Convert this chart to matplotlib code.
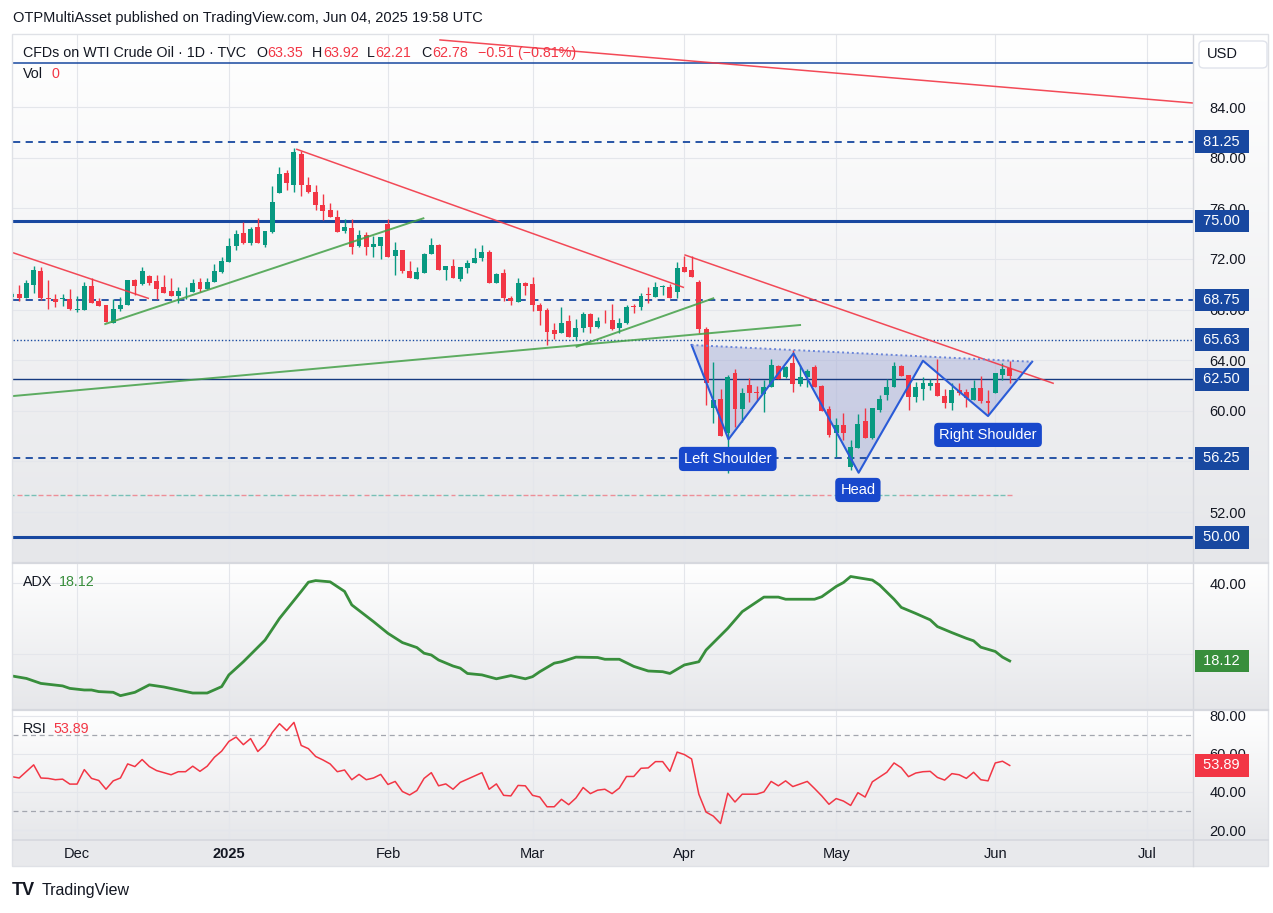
import matplotlib
matplotlib.use("Agg")
import matplotlib.pyplot as plt
import matplotlib.transforms as mtransforms
from matplotlib.colors import LinearSegmentedColormap
from matplotlib.patches import Rectangle, Polygon, FancyBboxPatch
from matplotlib.lines import Line2D
import numpy as np
import pandas as pd

plt.rcParams['font.family'] = ['Liberation Sans', 'DejaVu Sans']

# ---- daily bars, WTI CFD, Nov 19 2024 .. Jun 04 2025 ----
holidays = pd.to_datetime(["2024-12-25", "2025-01-01", "2025-04-18"])
dates = pd.bdate_range("2024-11-19", "2025-06-04")
dates = dates[~dates.isin(holidays)]

opens = [
    69.00, 69.23, 68.91, 69.94, 71.08, 68.94, 68.83, 68.80, 68.83, 68.00,
    67.96, 69.86, 68.68, 68.36, 66.97, 68.04, 68.36, 70.33, 70.00, 70.65,
    70.25, 69.76, 69.47, 69.10, 69.43, 69.42, 70.18, 69.60, 70.15, 71.00,
    71.73, 73.04, 74.02, 73.28, 74.50, 73.12, 74.15, 77.23, 78.76, 77.84,
    80.29, 77.84, 77.31, 76.26, 75.86, 75.29, 74.23, 74.42, 73.00, 73.89,
    72.92, 73.00, 74.76, 72.23, 72.70, 71.07, 70.39, 70.86, 72.39, 73.10,
    71.12, 71.44, 70.39, 71.26, 71.65, 72.05, 72.52, 70.07, 70.91, 68.94,
    68.62, 70.12, 70.02, 68.36, 67.96, 66.39, 66.18, 67.12, 65.81, 66.52,
    67.65, 66.60, 67.18, 67.18, 66.52, 66.91, 68.23, 68.23, 69.20, 69.02,
    69.81, 69.76, 69.41, 71.39, 71.12, 70.20, 66.44, 60.25, 60.91, 58.22,
    63.02, 60.12, 62.04, 61.49, 61.33, 61.86, 63.54, 62.65, 63.81, 62.12,
    62.70, 63.49, 61.96, 60.12, 58.28, 58.88, 55.54, 57.04, 59.22, 57.83,
    60.07, 61.25, 61.91, 63.54, 62.83, 61.12, 61.73, 61.99, 62.23, 61.17,
    60.65, 61.65, 61.52, 60.86, 61.78, 60.78, 61.44, 62.83, 63.35,
]
highs = [
    69.40, 69.94, 70.33, 71.44, 71.40, 70.30, 69.20, 69.20, 69.60, 69.07,
    70.20, 70.47, 68.90, 68.36, 68.83, 69.00, 70.33, 70.40, 71.40, 70.75,
    70.70, 70.73, 70.47, 69.76, 69.76, 70.40, 70.52, 70.52, 71.57, 72.18,
    73.68, 74.30, 74.94, 74.55, 75.20, 74.18, 77.76, 79.28, 79.02, 80.74,
    80.50, 78.50, 77.84, 77.13, 76.39, 75.90, 75.13, 75.13, 74.28, 74.10,
    73.81, 73.70, 75.13, 73.36, 72.70, 71.83, 71.39, 72.50, 73.63, 73.15,
    71.44, 71.97, 71.34, 71.92, 72.84, 73.10, 72.70, 70.91, 71.18, 69.07,
    70.47, 70.20, 70.55, 68.54, 68.10, 66.96, 68.18, 67.57, 67.23, 67.83,
    67.75, 67.39, 67.96, 68.44, 67.31, 68.36, 68.44, 69.28, 69.76, 70.20,
    69.94, 70.02, 71.78, 72.23, 72.23, 70.33, 66.60, 63.88, 61.70, 62.83,
    63.28, 61.78, 62.57, 61.96, 62.44, 64.07, 63.60, 63.55, 64.81, 63.62,
    63.28, 63.62, 62.04, 60.38, 59.41, 59.80, 57.70, 59.75, 60.20, 60.20,
    61.25, 62.49, 63.88, 63.60, 62.83, 62.31, 62.65, 62.49, 64.07, 61.70,
    62.17, 62.23, 61.70, 62.44, 62.75, 61.65, 63.02, 63.75, 63.92,
]
lows = [
    68.80, 68.70, 68.91, 69.34, 68.75, 68.04, 68.23, 68.30, 67.96, 67.78,
    67.96, 68.55, 68.30, 67.05, 66.97, 67.90, 68.36, 69.15, 69.95, 69.94,
    68.83, 69.34, 69.07, 68.49, 68.80, 69.42, 69.42, 69.60, 70.15, 70.87,
    71.73, 72.70, 73.18, 73.10, 73.23, 72.92, 74.02, 77.23, 77.44, 77.31,
    76.97, 77.18, 75.86, 75.08, 75.29, 74.15, 74.02, 72.39, 72.95, 72.31,
    72.13, 71.97, 72.18, 70.73, 70.91, 70.47, 70.39, 70.86, 72.39, 71.12,
    70.33, 70.47, 70.26, 70.90, 71.65, 71.83, 70.13, 70.07, 68.70, 68.36,
    68.62, 69.15, 67.91, 66.78, 65.20, 65.65, 66.18, 65.81, 65.60, 66.25,
    66.12, 66.52, 66.96, 66.39, 66.12, 66.86, 67.70, 67.96, 68.54, 69.02,
    69.15, 68.94, 68.89, 70.99, 70.60, 66.12, 60.46, 59.01, 58.01, 55.12,
    58.75, 59.14, 60.72, 60.86, 59.94, 61.86, 62.49, 62.60, 61.51, 61.96,
    61.86, 61.86, 60.01, 57.96, 56.38, 57.70, 55.33, 57.04, 57.83, 57.80,
    59.94, 60.86, 61.91, 62.78, 60.07, 60.73, 60.86, 61.65, 61.17, 60.20,
    60.07, 61.25, 60.33, 60.86, 60.60, 59.75, 61.44, 62.40, 62.21,
]
closes = [
    69.20, 68.91, 70.13, 71.12, 68.91, 68.83, 68.62, 68.88, 68.04, 68.06,
    69.86, 68.55, 68.30, 67.05, 68.04, 68.36, 70.33, 69.90, 71.05, 70.13,
    69.62, 69.34, 69.07, 69.47, 69.47, 70.13, 69.60, 70.18, 71.05, 71.83,
    73.04, 73.96, 73.28, 74.36, 73.23, 74.18, 76.52, 78.71, 78.02, 80.47,
    77.84, 77.26, 76.26, 75.81, 75.29, 74.15, 74.55, 72.97, 73.89, 72.92,
    73.18, 73.70, 72.18, 72.70, 71.07, 70.47, 70.99, 72.39, 73.10, 71.12,
    71.44, 70.47, 71.34, 71.65, 72.05, 72.52, 70.13, 70.81, 68.89, 68.70,
    70.07, 69.86, 68.36, 67.91, 66.25, 66.07, 66.96, 65.81, 66.52, 67.65,
    66.65, 67.12, 67.15, 66.44, 66.91, 68.23, 68.20, 69.07, 69.12, 69.81,
    69.86, 68.94, 71.31, 70.99, 70.60, 66.44, 62.23, 60.86, 58.01, 62.70,
    60.12, 61.44, 61.44, 61.42, 61.86, 63.62, 62.49, 63.49, 62.12, 62.70,
    63.17, 61.86, 60.01, 58.09, 58.88, 58.28, 57.17, 58.96, 57.83, 60.20,
    60.91, 61.91, 63.54, 62.78, 61.12, 61.91, 62.17, 62.23, 61.17, 60.65,
    61.65, 61.38, 60.99, 61.78, 60.80, 60.60, 63.02, 63.31, 62.78,
]

adx_idx = [0, 2, 4, 7, 8, 10, 11, 12, 14, 15, 17, 19, 21, 23, 25, 27, 29, 30, 32, 35,
           37, 40, 41, 42, 44, 46, 47, 50, 52, 54, 56, 57, 58, 59, 61, 62, 63, 65, 67, 69,
           71, 72, 73, 75, 76, 78, 81, 82, 84, 85, 86, 88, 90, 91, 93, 95, 96, 99, 101, 104,
           106, 107, 111, 112, 114, 115, 116, 119, 120, 122, 123, 125, 127, 128, 130, 132,
           133, 134, 136, 137, 138]
adx_val = [13.9, 13.2, 11.8, 11.1, 10.4, 9.95, 9.95, 9.5, 9.3, 8.35, 9.3, 11.4, 10.8, 9.95,
           9.1, 9.1, 10.9, 14.2, 17.9, 24.0, 30.1, 37.7, 40.3, 40.75, 40.4, 37.7, 33.9, 29.2,
           25.9, 23.3, 21.9, 20.3, 19.8, 18.4, 16.7, 16.1, 14.6, 14.2, 13.1, 14.0, 13.1, 13.7,
           15.1, 17.5, 17.9, 19.2, 19.1, 18.6, 18.6, 17.6, 16.6, 15.3, 15.1, 14.6, 17.0, 17.9,
           21.2, 27.3, 32.0, 36.1, 36.1, 35.5, 35.5, 36.2, 39.1, 40.2, 41.9, 40.9, 39.5, 35.5,
           33.2, 31.5, 29.7, 27.8, 26.1, 24.5, 23.8, 22.0, 20.8, 19.2, 18.12]

rsi_idx = [0, 1, 3, 4, 5, 6, 7, 8, 9, 10, 11, 12, 13, 14, 15, 16, 17, 18, 19, 20,
           22, 23, 24, 25, 26, 27, 28, 29, 30, 31, 32, 33, 34, 35, 36, 37, 38, 39, 40, 41,
           42, 43, 44, 45, 46, 47, 48, 49, 50, 51, 52, 53, 54, 55, 56, 57, 58, 59, 60, 61,
           62, 65, 66, 67, 68, 69, 70, 71, 72, 73, 74, 75, 76, 77, 78, 79, 80, 81, 82, 83,
           84, 85, 86, 87, 88, 89, 90, 91, 92, 93, 94, 95, 96, 97, 98, 99, 100, 101, 103, 104,
           105, 106, 107, 108, 110, 111, 112, 113, 114, 115, 116, 117, 118, 119, 121, 122, 123,
           124, 125, 126, 127, 128, 129, 130, 131, 132, 133, 134, 135, 136, 137, 138]
rsi_val = [48.0, 47.3, 54.2, 47.3, 47.1, 46.4, 46.7, 44.1, 44.1, 51.7, 47.1, 46.0, 41.4, 45.8,
           47.3, 54.7, 53.3, 57.0, 53.3, 51.2, 49.0, 50.6, 50.6, 53.5, 50.8, 53.5, 58.2, 61.4,
           66.5, 68.8, 64.8, 68.0, 61.2, 64.8, 71.2, 75.8, 72.2, 76.5, 64.4, 62.7, 58.6, 56.8,
           54.7, 50.6, 51.5, 46.4, 49.2, 46.4, 47.3, 49.2, 43.9, 45.5, 40.2, 38.4, 40.7, 47.1,
           50.1, 43.2, 44.2, 41.4, 45.0, 50.1, 41.4, 44.2, 38.2, 37.9, 43.4, 43.2, 38.2, 37.3,
           32.2, 32.2, 36.1, 33.3, 36.8, 42.3, 39.1, 40.9, 41.4, 39.1, 42.0, 48.1, 48.1, 52.4,
           52.6, 55.9, 55.9, 50.8, 60.9, 59.6, 57.3, 38.8, 29.4, 27.3, 23.4, 39.3, 34.7, 38.8,
           38.8, 40.0, 45.5, 43.2, 45.8, 42.8, 45.5, 41.8, 37.9, 33.5, 36.5, 35.2, 32.9, 39.6,
           37.3, 45.3, 50.3, 55.2, 52.7, 48.0, 49.9, 50.6, 50.8, 47.6, 46.2, 49.6, 49.0, 47.1,
           50.3, 46.4, 45.8, 55.2, 56.1, 53.89]

levels = [87.50, 81.25, 75.00, 68.75, 65.63, 62.50, 56.25, 50.00]
tagged = [81.25, 75.00, 68.75, 65.63, 62.50, 56.25, 50.00]
price_ticks = [52, 60, 64, 68, 72, 76, 80, 84]   # 56.00 sits under the 56.25 tag

# ---- style ----
W, H = 1273, 913
UP, DOWN = '#089981', '#f23645'
TEXT = '#131722'
BLUE = '#1848a0'
GRID = '#e4e6eb'

fig = plt.figure(figsize=(W / 100, H / 100), dpi=100)


def fx(x):
    return x / W


def fy(y):
    return 1 - y / H


def pane(top, bottom, left=13, right=1193):
    return [fx(left), fy(bottom), (right - left) / W, (bottom - top) / H]


# gradient backgrounds per pane
grad = LinearSegmentedColormap.from_list('tvbg', ['#ffffff', '#e6e7ea'])
for top, bottom in [(35, 562), (563, 709), (710, 840)]:
    bg = fig.add_axes(pane(top, bottom, 13, 1268), zorder=-5)
    bg.imshow(np.linspace(0, 1, 200).reshape(-1, 1), cmap=grad, aspect='auto',
              extent=[0, 1, 0, 1])
    bg.set_axis_off()
fig.patches.append(Rectangle((fx(13), fy(866)), (1268 - 13) / W, 26 / H,
                             transform=fig.transFigure, fc='#e8e9ec', ec='none', zorder=-6))

ax = fig.add_axes(pane(35, 562))
ax_adx = fig.add_axes(pane(563, 709), sharex=ax)
ax_rsi = fig.add_axes(pane(710, 840), sharex=ax)

for a in (ax, ax_adx, ax_rsi):
    a.set_facecolor('none')
    for s in a.spines.values():
        s.set_visible(False)
    a.yaxis.tick_right()
    a.tick_params(axis='y', length=0, pad=12, labelsize=10.5, labelcolor=TEXT)
    a.tick_params(axis='x', length=0, labelsize=10.5, labelcolor=TEXT, pad=5)
    a.grid(True, color=GRID, lw=0.8)
    a.set_axisbelow(True)

# month ticks (bar index of first bar of each month)
ext = pd.bdate_range("2024-11-19", "2025-07-31")
ext = ext[~ext.isin(holidays)]
firsts = [i for i in range(1, len(ext)) if ext[i].month != ext[i - 1].month]
mlabels = ['2025' if ext[i].month == 1 else ext[i].strftime('%b') for i in firsts]
ax_rsi.set_xticks(firsts)
ax_rsi.set_xticklabels(mlabels)
for t in ax_rsi.get_xticklabels():
    if t.get_text() == '2025':
        t.set_fontweight('bold')
ax.tick_params(labelbottom=False)
ax_adx.tick_params(labelbottom=False)
ax.set_xlim(0.14, 163.35)

# ---- price pane ----
x = np.arange(len(closes))
o, h, l, c = map(np.array, (opens, highs, lows, closes))
col = np.where(c >= o, UP, DOWN)
ax.vlines(x, l, h, colors=col, lw=1, zorder=4)
ax.bar(x, np.maximum(np.abs(c - o), 0.05), bottom=np.minimum(o, c), width=0.68,
       color=col, linewidth=0, zorder=5)
# zero volume bars
ax.hlines(np.full(len(x), 53.35), x - 0.34, x + 0.34, colors=col, lw=1, alpha=0.5, zorder=3)

ax.set_ylim(48.06, 89.69)
ax.set_yticks(price_ticks)
ax.set_yticklabels([f'{v:.2f}' for v in price_ticks])
# keep the 56 grid line even though its label is covered
ax.axhline(56, color=GRID, lw=0.8, zorder=0)

styles = {87.50: dict(lw=1.1), 81.25: dict(lw=1.3, ls=(0, (4, 3))),
          75.00: dict(lw=2.2), 68.75: dict(lw=1.3, ls=(0, (4, 3))),
          65.63: dict(lw=1.0, ls=(0, (1, 1.5))), 62.50: dict(lw=1.0, color='#163a80'),
          56.25: dict(lw=1.3, ls=(0, (4, 3))), 50.00: dict(lw=2.2)}
for lv in levels:
    st = dict(color=BLUE)
    st.update(styles[lv])
    ax.axhline(lv, zorder=3, **st)

# trend lines
for (x0, y0), (x1, y1) in [((59.2, 89.30), (163.3, 84.32)), ((0.14, 72.49), (18.85, 68.89)),
                           ((39.4, 80.66), (92.85, 69.76)), ((93.1, 72.31), (144.0, 62.18))]:
    ax.plot([x0, x1], [y0, y1], color='#f23645', lw=1.1, alpha=0.9, zorder=6)
for (x0, y0), (x1, y1) in [((0.14, 61.17), (109.0, 66.78)), ((12.9, 66.86), (56.9, 75.21)),
                           ((78.1, 65.07), (97.0, 68.89))]:
    ax.plot([x0, x1], [y0, y1], color='#43a047', lw=1.4, alpha=0.85, zorder=6)

# inverse head & shoulders
pat_x = [94.0, 99.1, 108.1, 117.1, 126.0, 135.0, 141.1]
pat_y = [65.20, 57.75, 64.54, 55.11, 63.96, 59.59, 63.88]
ax.add_patch(Polygon(np.column_stack([pat_x, pat_y]), closed=True, fc='#3f51b5',
                     alpha=0.2, ec='none', zorder=2))
ax.plot(pat_x, pat_y, color='#2a5bd7', lw=1.5, zorder=7)
ax.plot([pat_x[0], pat_x[-1]], [pat_y[0], pat_y[-1]], color='#6a85d8', lw=1.4,
        ls=(0, (1, 1.5)), zorder=7)
for txt, px_, py_ in [('Left Shoulder', 99.0, 56.2), ('Head', 117.0, 53.75),
                      ('Right Shoulder', 135.0, 58.1)]:
    ax.text(px_, py_, txt, ha='center', va='center', color='white', fontsize=10.5,
            bbox=dict(boxstyle='round,pad=0.35,rounding_size=0.3', fc='#1848cc', ec='none'),
            zorder=9)


def tag(a, value, text, color):
    tr = mtransforms.blended_transform_factory(a.transAxes, a.transData)
    a.text(1.0055, value, ' ' + text + ' ', transform=tr, ha='left', va='center',
           fontsize=10.5, color='white', clip_on=False, zorder=10,
           bbox=dict(boxstyle='square,pad=0.3', fc=color, ec='none'))


for lv in tagged:
    tag(ax, lv, f'{lv:.2f}', BLUE)

# ---- ADX pane ----
ax_adx.plot(adx_idx, adx_val, color='#388e3c', lw=2.0, zorder=4)
ax_adx.set_ylim(4.6, 45.7)
ax_adx.set_yticks([20, 40])
ax_adx.set_yticklabels(['20.00', '40.00'])
tag(ax_adx, adx_val[-1], f'{adx_val[-1]:.2f}', '#388e3c')

# ---- RSI pane ----
ax_rsi.plot(rsi_idx, rsi_val, color='#f23645', lw=1.1, zorder=4)
for lv in (70, 30):
    ax_rsi.axhline(lv, color='#a3a6af', lw=0.9, ls=(0, (4, 3)), zorder=3)
ax_rsi.set_ylim(14.75, 83.0)
ax_rsi.set_yticks([20, 40, 60, 80])
ax_rsi.set_yticklabels(['20.00', '40.00', '60.00', '80.00'])
tag(ax_rsi, rsi_val[-1], f'{rsi_val[-1]:.2f}', '#f23645')

# ---- separators and frame ----
for yy, lw in [(562.5, 1.6), (709.5, 1.6), (840, 1.2)]:
    fig.add_artist(Line2D([fx(13), fx(1268)], [fy(yy), fy(yy)], color='#d6d8de', lw=lw))
fig.add_artist(Line2D([fx(1193), fx(1193)], [fy(35), fy(866)], color='#d6d8de', lw=1))
fig.patches.append(Rectangle((fx(12), fy(866)), (1268 - 12) / W, (866 - 34) / H,
                             transform=fig.transFigure, fc='none', ec='#dfe1e6', lw=1))

# ---- header texts ----
fig.text(fx(13), fy(18), 'OTPMultiAsset published on TradingView.com, Jun 04, 2025 19:58 UTC',
         fontsize=10.5, color=TEXT, va='center')
fig.text(fx(23), fy(53), 'CFDs on WTI Crude Oil · 1D · TVC', fontsize=10.3, color=TEXT,
         va='center')
for letter, value, xx in [('O', '63.35', 256), ('H', '63.92', 312), ('L', '62.21', 367),
                          ('C', '62.78', 421), ('', '−0.51 (−0.81%)', 477)]:
    lt = fig.text(fx(xx), fy(53), letter, fontsize=10.3, color=TEXT, va='center')
    ax.annotate(value, xy=(1, 0.5), xycoords=lt, xytext=(0.5, 0), textcoords='offset points',
                va='center', ha='left', fontsize=10.3, color=DOWN, annotation_clip=False)
fig.text(fx(23), fy(74), 'Vol', fontsize=10.3, color=TEXT, va='center')
fig.text(fx(52), fy(74), '0', fontsize=10.3, color=DOWN, va='center')
fig.text(fx(23), fy(582), 'ADX', fontsize=10.3, color=TEXT, va='center')
fig.text(fx(59), fy(582), '18.12', fontsize=10.3, color='#388e3c', va='center')
fig.text(fx(23), fy(729), 'RSI', fontsize=10.3, color=TEXT, va='center')
fig.text(fx(53), fy(729), '53.89', fontsize=10.3, color=DOWN, va='center')

fig.patches.append(FancyBboxPatch((fx(1199), fy(68)), 68 / W, 27 / H,
                                  boxstyle='round,pad=0,rounding_size=0.004',
                                  transform=fig.transFigure, fc='white', ec='#e0e3eb', lw=1))
fig.text(fx(1222), fy(54), 'USD', fontsize=10.5, color=TEXT, va='center', ha='center')

fig.text(fx(12), fy(890), 'TV', fontsize=13, fontweight='black', color=TEXT, va='center')
fig.text(fx(42), fy(890), 'TradingView', fontsize=11.5, color=TEXT, va='center')

fig.savefig('out.png', dpi=100)
